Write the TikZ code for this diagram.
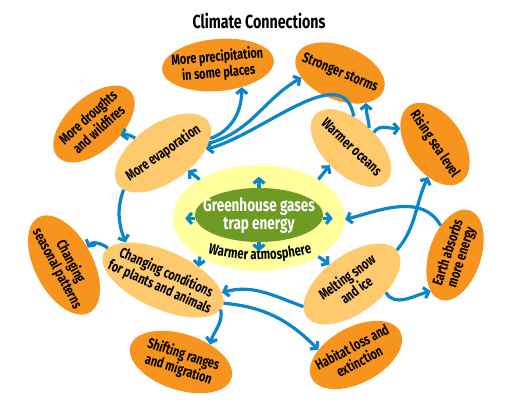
\documentclass[tikz,border=0pt]{standalone}
\usepackage{fontspec}
\setmainfont{Fira Sans}[FakeStretch=0.75]
\usetikzlibrary{shapes.geometric,arrows.meta,decorations.text}
\definecolor{dorange}{HTML}{F7941D}
\definecolor{lorange}{HTML}{FFC96E}
\definecolor{pyellow}{HTML}{FFFF9E}
\definecolor{ggreen}{HTML}{6E9B23}
\definecolor{cblue}{HTML}{0B87C7}
\newcommand\zb[1]{\makebox[0pt]{\raisebox{-.3em}[0pt][0pt]{\begin{tabular}[c]{@{}c@{}}#1\end{tabular}}}}
\tikzset{
  bubble/.style={ellipse, inner sep=0pt, draw=none, font=\bfseries\fontsize{14.5}{14}\selectfont},
  outerb/.style={bubble, fill=dorange},
  innerb/.style={bubble, fill=lorange},
  conn/.style={draw=cblue, line width=3.2pt, -{Straight Barb[length=4.5pt,width=11pt]}},
}
\begin{document}
\begin{tikzpicture}[x=1pt,y=1pt]
\useasboundingbox[fill=white] (0,0) rectangle (510,411);
\node[font=\bfseries\fontsize{19}{19}\selectfont] (title) at (259,390) {Climate Connections};

\node[outerb, rotate=5, minimum width=112pt, minimum height=52pt] (precip) at (218,346) {\zb{More precipitation\\in some places}};
\node[outerb, rotate=-22, minimum width=94pt, minimum height=54pt] (storms) at (340,338) {\zb{Stronger storms}};
\node[outerb, rotate=42, minimum width=98pt, minimum height=54pt] (drought) at (94,287) {\zb{More droughts\\and wildfires}};
\node[innerb, rotate=35, minimum width=110pt, minimum height=58pt] (evap) at (163,258) {\zb{More evaporation}};
\node[innerb, rotate=-43, minimum width=98pt, minimum height=54pt] (oceans) at (351,263) {\zb{Warmer oceans}};
\node[outerb, rotate=-56, minimum width=92pt, minimum height=56pt] (sea) at (435,267) {\zb{Rising sea level}};
\node[ellipse, inner sep=0pt, fill=pyellow, minimum width=172pt, minimum height=106pt] (yellow) at (259,193) {};
\node[ellipse, inner sep=0pt, fill=ggreen, text=white, font=\bfseries\fontsize{18}{18}\selectfont, minimum width=128pt, minimum height=54pt] (green) at (259,196) {\zb{Greenhouse gases\\trap energy}};
\node[outerb, rotate=-62, minimum width=108pt, minimum height=58pt] (seasonal) at (64,146) {\zb{Changing\\seasonal patterns}};
\node[innerb, rotate=-24, minimum width=130pt, minimum height=58pt] (cond) at (163,131) {\zb{Changing conditions\\for plants and animals}};
\node[outerb, rotate=-18, minimum width=106pt, minimum height=56pt] (shift) at (181,49) {\zb{Shifting ranges\\and migration}};
\node[innerb, rotate=36, minimum width=112pt, minimum height=58pt] (melt) at (352,127) {\zb{Melting snow\\and ice}};
\node[outerb, rotate=72, minimum width=94pt, minimum height=52pt] (earth) at (455,156) {\zb{Earth absorbs\\more energy}};
\node[outerb, rotate=28, minimum width=100pt, minimum height=56pt] (habitat) at (356,56) {\zb{Habitat loss and\\extinction}};

\path[decorate, decoration={text along path, text align=center,
  text={|\bfseries\fontsize{15}{15}\selectfont|Warmer atmosphere}}]
  (199,161) .. controls (233,148) and (287,148) .. (321,161);

% central arrows
\draw[conn] (green.north) -- ++(0,11);
\draw[conn] (green.south) -- ++(0,-9);
\draw[conn] (green.183) -- ++(-10,0);
\draw[conn] (green.-3) -- ++(10,0);
\draw[conn] (yellow.147) -- (evap.-70);
\draw[conn] (yellow.33) -- (oceans.-98.6);
\draw[conn] (yellow.213) -- (cond.44.6);
\draw[conn] (yellow.327) -- (melt.103.2);

% other connectors
\draw[conn] (evap.117.5) to[bend right=25] (drought.-66.6);
\draw[conn] (evap.-18.5) to[out=20, in=-90] (precip.-48.8);
\draw[conn] (evap.-23) to[out=15, in=210] (storms.209.5);
\draw[conn] (oceans.128.4) to[out=100, in=15] (evap.-30.7);
\draw[conn] (oceans.91.4) to[out=95, in=-90] (storms.-27.2);
\draw[conn] (oceans.77.4) to[out=60, in=182] (sea.212.4);
\draw[conn] (melt.1) to[out=50, in=-115] (sea.-46);
\draw[conn] (earth.44.6) to[out=120, in=15] (yellow.-1);
\draw[conn] (melt.-50.5) to[out=-60, in=195] (earth.164.7);
\draw[conn] (evap.-172.9) to[out=-110, in=110] (cond.159.7);
\draw[conn] (cond.174.7) to[out=140, in=60] (seasonal.98.9);
\draw[conn] (melt.169.1) to[out=160, in=15] (cond.12.7);
\draw[conn] (cond.3.9) to[out=-5, in=135] (habitat.144);
\draw[conn] (cond.-3.8) to[out=-80, in=75] (shift.49.5);
\end{tikzpicture}
\end{document}
